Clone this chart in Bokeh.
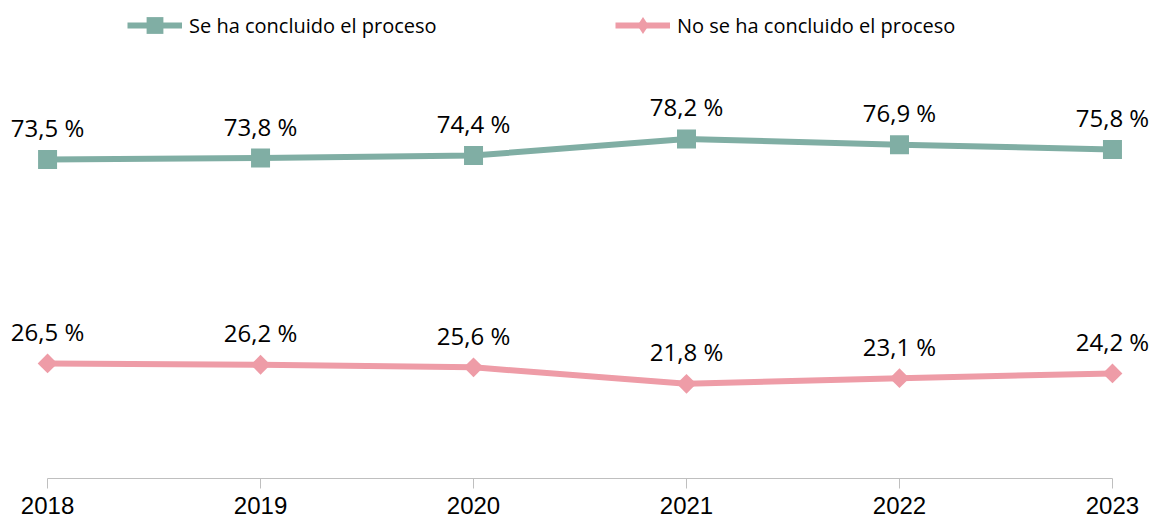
import numpy as np
from bokeh.plotting import figure
from bokeh.models import Range1d, Legend, LegendItem, ColumnDataSource, FixedTicker
from bokeh.core.properties import value
from bokeh.embed import file_html
from bokeh.resources import INLINE

years = [2018, 2019, 2020, 2021, 2022, 2023]
concluido = [73.5, 73.8, 74.4, 78.2, 76.9, 75.8]
no_concluido = [26.5, 26.2, 25.6, 21.8, 23.1, 24.2]
series_names = ["Se ha concluido el proceso", "No se ha concluido el proceso"]

GREEN = "#80AEA4"
PINK = "#EE9CA7"

def fmt(v):
    return f"{v:.1f}".replace(".", ",") + " %"

p = figure(frame_width=1152, frame_height=478, output_backend="svg", toolbar_location=None,
           x_range=Range1d(2017.779, 2023.188), y_range=Range1d(0, 110.1),
           min_border_left=0, min_border_right=0, min_border_top=0, min_border_bottom=42)
p.outline_line_color = None
p.xgrid.visible = False
p.ygrid.visible = False
p.yaxis.visible = False

src1 = ColumnDataSource(dict(x=years, y=concluido, t=[fmt(v) for v in concluido]))
src2 = ColumnDataSource(dict(x=years, y=no_concluido, t=[fmt(v) for v in no_concluido]))

l1 = p.line("x", "y", source=src1, line_color=GREEN, line_width=6)
s1 = p.scatter("x", "y", source=src1, marker="square", size=19, fill_color=GREEN, line_color=None)
l2 = p.line("x", "y", source=src2, line_color=PINK, line_width=6)
s2d = p.scatter("x", "y", source=src2, marker="diamond", size=18, fill_color=PINK, line_color=None)
s2 = p.scatter("x", "y", source=src2, marker="square", angle=np.pi / 4, size=14, fill_color=PINK, line_color=None)

for src in (src1, src2):
    p.text("x", "y", text="t", source=src, text_align="center", text_baseline="middle",
           y_offset=-32, text_font=value("Open Sans"), text_font_size="24px", text_color="#000000")

ax = p.xaxis[0]
ax.ticker = FixedTicker(ticks=years)
ax.bounds = (years[0], years[-1])
ax.axis_line_color = "#BFBFBF"
ax.axis_line_width = 1
ax.major_tick_line_color = "#BFBFBF"
ax.major_tick_out = 10
ax.major_tick_in = 0
ax.minor_tick_line_color = None
ax.major_label_text_font = "Liberation Sans"
ax.major_label_text_font_size = "24px"
ax.major_label_text_color = "#000000"
ax.major_label_standoff = 8

for items, loc in (([LegendItem(label=series_names[0], renderers=[l1, s1])], (127, 432)),
                   ([LegendItem(label=series_names[1], renderers=[l2, s2d])], (615, 432))):
    lg = Legend(items=items, location=loc, orientation="horizontal",
                glyph_width=55, glyph_height=42, label_standoff=7, padding=0, margin=0,
                border_line_color=None, background_fill_alpha=0,
                label_text_font="Open Sans", label_text_font_size="20px", label_text_color="#000000")
    p.add_layout(lg, "center")

open("out.html", "w").write(file_html(p, INLINE))
